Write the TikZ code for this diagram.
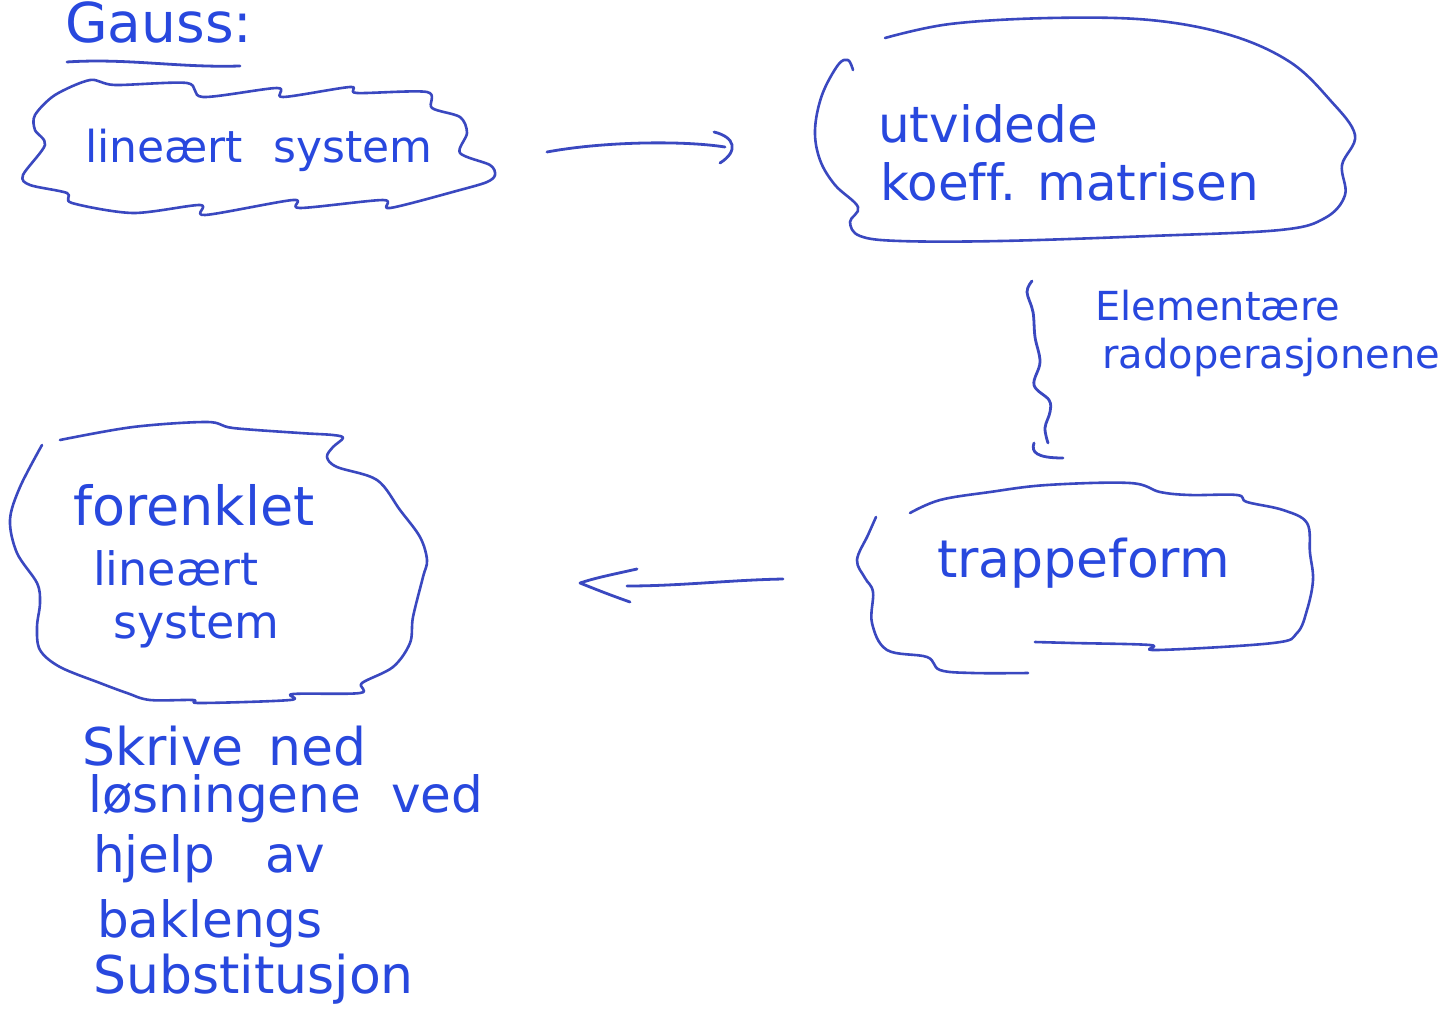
\documentclass[tikz,border=0pt]{standalone}
\usepackage{fontspec}
\setmainfont{DejaVu Sans}
\usetikzlibrary{arrows.meta}
\definecolor{ink}{RGB}{40,72,222}
\definecolor{pen}{RGB}{58,72,192}
\begin{document}
\begin{tikzpicture}[x=1pt,y=-1pt,
  txt/.style={anchor=base west,inner sep=0pt,text=ink},
  outline/.style={draw=pen,line width=2.6pt,line cap=round,line join=round},
  connector/.style={draw=pen,line width=2.8pt,line cap=round,line join=round}]
\fill[white] (0,0) rectangle (1450,1023);
\useasboundingbox (0,0) rectangle (1450,1023);

% Title
\node[txt,font=\fontsize{55}{60}\selectfont] (title) at (65,42) {Gauss:};
\draw[connector] (title.south west) ++(2,19) .. controls ++(60,-4) and ++(-60,2) .. ++(173,4);

% Cloud 1: lineaert system
\node[txt,font=\fontsize{44}{50}\selectfont] (sys) at (85,162) {lineært\hspace{30pt}system};
\draw[outline] plot[smooth cycle, tension=0.5] coordinates {
 (90,80) (115,85) (187,83) (203,97) (277,88) (283,97) (350,87) (357,93)
 (427,92) (432,108) (460,117) (467,133) (460,153) (490,165) (495,175)
 (487,182) (460,190) (390,208) (383,200) (300,208) (293,200) (205,215)
 (200,205) (133,213) (72,203) (67,193) (30,185) (23,175) (45,145)
 (35,130) (35,115) (55,95)};

% Blob 2: utvidede koeff. matrisen
\node[txt,font=\fontsize{50}{56}\selectfont] (utv) at (878,142) {utvidede};
\node[txt,font=\fontsize{50}{56}\selectfont] (koeff) at (880,200) {koef\kern0ptf. matrisen};
\draw[outline] plot[smooth, tension=0.6] coordinates {
 (885,38) (950,24) (1050,18) (1150,20) (1230,35) (1290,62) (1330,100)
 (1355,135) (1342,165) (1345,195) (1325,218) (1280,230) (1150,236)
 (1000,241) (900,241) (860,236) (850,222) (858,207) (835,185) (820,160)
 (815,130) (822,95) (838,65) (848,60) (853,70)};

% Arrow right
\coordinate (ra) at (547,152);
\coordinate (rb) at (725,147);
\draw[connector] (ra) .. controls (600,142) and (680,140) .. (rb);
\draw[connector] ([shift={(-11,-15)}]rb) .. controls ([shift={(10,-10)}]rb) and ([shift={(14,4)}]rb) .. ([shift={(-5,16)}]rb);

% Brace and label
\coordinate (bt) at (1032,281);
\coordinate (bb) at (1063,458);
\draw[connector] plot[smooth, tension=0.6] coordinates {
 (bt) (1027,292) (1033,312) (1035,337) (1040,362) (1034,385) (1049,400)
 (1050,412) (1045,428) (1048,443)};
\draw[connector] (1034,443) .. controls (1031,452) and (1036,458) .. (bb);
\node[txt,font=\fontsize{40}{46}\selectfont] (elem) at (1095,320) {Elementære};
\node[txt,font=\fontsize{40}{46}\selectfont] (rad) at (1102,368) {radoperasjonene};

% Blob 3: trappeform
\node[txt,font=\fontsize{52}{58}\selectfont] (trap) at (937,577) {trappeform};
\draw[outline] plot[smooth, tension=0.6] coordinates {
 (876,517) (868,535) (857,560) (865,578) (873,592) (872,623) (887,650)
 (927,657) (940,670) (973,673) (1028,673)};
\draw[outline] plot[smooth, tension=0.6] coordinates {
 (910,513) (940,500) (990,492) (1047,485) (1130,483) (1160,492) (1190,495)
 (1237,495) (1247,502) (1283,510) (1307,523) (1310,553) (1313,580)
 (1307,610) (1297,633) (1273,643) (1157,650) (1150,645) (1073,643) (1035,642)};

% Arrow left
\coordinate (la) at (783,579);
\coordinate (lb) at (627,586);
\coordinate (lt) at (580,583);
\draw[connector] (la) .. controls (730,580) and (680,586) .. (lb);
\draw[connector] ([shift={(57,-14)}]lt) .. controls ([shift={(30,-8)}]lt) and ([shift={(15,-5)}]lt) .. (lt)
  .. controls ([shift={(15,6)}]lt) and ([shift={(30,12)}]lt) .. ([shift={(50,19)}]lt);

% Blob 4: forenklet lineaert system
\node[txt,font=\fontsize{54}{60}\selectfont] (forenk) at (73,525) {forenklet};
\node[txt,font=\fontsize{46}{52}\selectfont] (lin2) at (93,585) {lineært};
\node[txt,font=\fontsize{46}{52}\selectfont] (sys2) at (113,638) {system};
\draw[outline] plot[smooth, tension=0.55] coordinates {
 (60,440) (133,427) (207,422) (233,428) (300,433) (333,435) (343,438)
 (333,447) (327,457) (337,467) (377,480) (400,510) (420,537) (427,560)
 (423,577) (413,617) (410,643) (393,667) (362,683) (360,693) (293,694)
 (290,700) (200,703) (193,700) (150,700) (127,693) (100,683) (60,667)
 (40,650) (37,627) (40,603) (37,583) (17,553) (10,520) (20,487) (42,445)};

% Bottom text
\node[txt,font=\fontsize{52}{58}\selectfont] (skr) at (82,765) {Skrive\hspace{25pt}ned};
\node[txt,font=\fontsize{50}{56}\selectfont] (los) at (88,812) {løsningene\hspace{30pt}ved};
\node[txt,font=\fontsize{50}{56}\selectfont] (hj) at (93,872) {hjelp\hspace{50pt}av};
\node[txt,font=\fontsize{50}{56}\selectfont] (bak) at (97,937) {baklengs};
\node[txt,font=\fontsize{52}{58}\selectfont] (sub) at (93,993) {Substitusjon};
\end{tikzpicture}
\end{document}
